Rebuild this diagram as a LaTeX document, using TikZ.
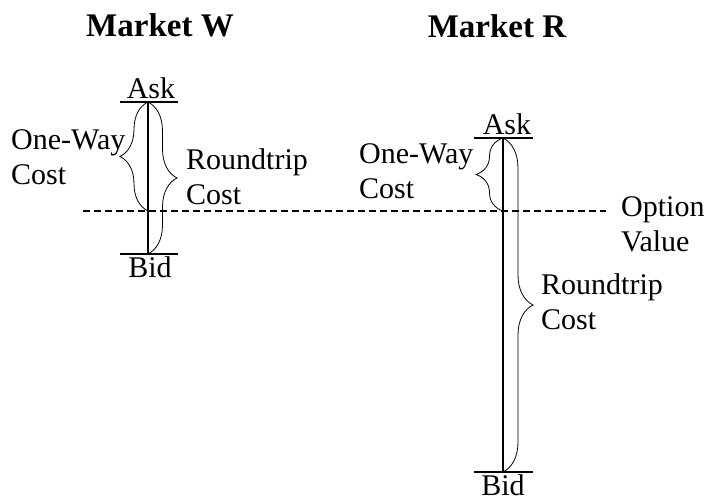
\documentclass[tikz,border=0pt]{standalone}
\usepackage{fontspec}
\setmainfont{Liberation Serif}
\usetikzlibrary{decorations.pathreplacing,positioning}

\begin{document}
\begin{tikzpicture}[x=1pt,y=-1pt,inner sep=0pt,
    lbl/.style={font=\fontsize{30}{35}\selectfont,align=left,anchor=west},
    tick/.style={font=\fontsize{30}{35}\selectfont,anchor=base},
    title/.style={font=\fontsize{33}{38}\selectfont\bfseries,anchor=base},
    rail/.style={line width=1.2pt},
    cbrace/.style={decorate,line width=0.8pt,
      decoration={brace,amplitude=#1,aspect=0.5}}]
  \useasboundingbox (0,0) rectangle (707,502);

  % the two markets, quote levels
  \coordinate (wA) at (148,102);
  \coordinate (wB) at (148,254);
  \coordinate (wO) at (148,211);
  \coordinate (rA) at (503,138);
  \coordinate (rB) at (503,472);
  \coordinate (rO) at (503,211);
  \coordinate (o1) at (83,211);
  \coordinate (o2) at (606,211);

  \node[title] (mw) at (160,37) {Market W};
  \node[title] (mr) at (497,38) {Market R};

  % option value
  \draw[line width=1.6pt,dash pattern=on 7pt off 4pt] (o1) -- (o2);
  \node[lbl] (ov) at (621,224) {Option\\Value};

  % market W
  \draw[rail] (wA) -- (wB);
  \draw[rail] ([xshift=-28pt]wA) -- ([xshift=30pt]wA);
  \draw[rail] ([xshift=-28pt]wB) -- ([xshift=30pt]wB);
  \node[tick] (wask) at (151,99) {Ask};
  \node[tick] (wbid) at (150,278) {Bid};
  \draw[cbrace=28pt] (wO) -- (wA);
  \draw[cbrace=29pt] (wA) -- (wB);
  \node[lbl] (wone) at (11,157) {One-Way\\Cost};
  \node[lbl] (wrt) at (186,177) {Roundtrip\\Cost};

  % market R
  \draw[rail] (rA) -- (rB);
  \draw[rail] ([xshift=-29pt]rA) -- ([xshift=30pt]rA);
  \draw[rail] ([xshift=-29pt]rB) -- ([xshift=30pt]rB);
  \node[tick] (rask) at (507,135) {Ask};
  \node[tick] (rbid) at (503,495) {Bid};
  \draw[cbrace=27pt] (rO) -- (rA);
  \draw[cbrace=30pt] (rA) -- (rB);
  \node[lbl] (rone) at (359,171) {One-Way\\Cost};
  \node[lbl] (rrt) at (541,302) {Roundtrip\\Cost};
\end{tikzpicture}
\end{document}
